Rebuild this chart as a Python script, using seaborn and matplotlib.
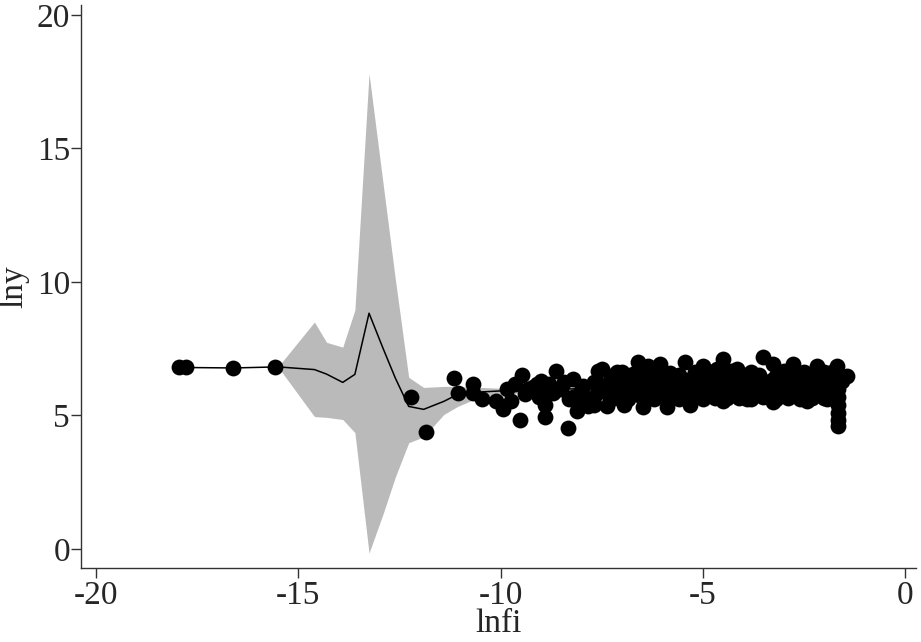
import numpy as np
import pandas as pd
import matplotlib
matplotlib.use("Agg")
import matplotlib.pyplot as plt
import seaborn as sns

# ---- smoothed fit with confidence band ----
fit_x = [-18.0, -16.6, -15.5, -14.6, -14.3, -13.9, -13.6, -13.25, -12.9, -12.6,
         -12.27, -11.9, -11.4, -11.06, -10.5, -10.0, -9.0, -7.0, -5.0, -3.0, -1.6]
fit_y = [6.80, 6.78, 6.82, 6.72, 6.55, 6.24, 6.54, 8.83, 7.50, 6.40,
         5.34, 5.23, 5.53, 5.79, 5.88, 5.92, 5.98, 6.02, 6.05, 6.08, 6.05]
ci_lo = [6.80, 6.78, 6.82, 4.96, 4.93, 4.85, 4.36, -0.15, 1.33, 2.70,
         3.98, 4.20, 5.04, 5.34, 5.70, 5.80, 5.88, 5.95, 5.98, 6.00, 5.90]
ci_hi = [6.80, 6.78, 6.82, 8.50, 7.74, 7.56, 8.95, 17.80, 13.65, 10.10,
         6.43, 6.05, 6.09, 6.09, 6.05, 6.02, 6.06, 6.09, 6.12, 6.15, 6.20]

# ---- observations ----
obs_x = [
    -17.95, -17.78, -16.62, -15.58,
    -12.22, -11.83, -11.16, -11.04, -10.69, -10.69, -10.47, -10.12, -9.93, -9.75,
    -9.83, -9.63, -9.46, -9.53, -9.33, -9.09, -9.06, -8.89, -8.91, -8.81, -8.62,
    -8.59, -8.32, -8.44, -8.22, -8.20, -8.10, -7.85, -7.95, -7.70, -7.58, -7.70,
    -9.20, -8.70, -8.00, -7.60,
    -9.00, -8.50, -8.30, -7.90, -8.80, -9.40,
    -7.48, -7.11, -6.59, -6.35, -6.05, -6.72, -5.43, -4.99, -4.49, -4.64, -4.15,
    -3.51, -3.26, -2.77, -2.17, -1.68, -1.43,
    -7.70, -7.36, -6.96, -6.47, -5.88, -5.31, -4.49, -3.90, -3.26, -2.42, -1.93,
    -1.65, -1.65, -1.65, -1.65, -1.65, -1.65,
    -7.00, -6.20, -5.80, -5.20, -4.80, -4.30, -3.80, -3.00, -2.50, -2.00, -1.80,
    -7.30, -6.95, -6.60, -6.30, -6.00, -5.70, -5.40, -5.10, -4.80, -4.50, -4.20,
    -3.90, -3.60, -3.30, -3.00, -2.70, -2.40, -2.10, -1.85, -1.60,
    -7.45, -7.10, -6.80, -6.45, -6.15, -5.85, -5.55, -5.25, -4.95, -4.65, -4.35,
    -4.05, -3.75, -3.45, -3.15, -2.85, -2.55, -2.25, -1.95, -1.70,
    -7.20, -6.85, -6.50, -6.20, -5.90, -5.60, -5.30, -5.00, -4.70, -4.40, -4.10,
    -3.80, -3.50, -3.20, -2.90, -2.60, -2.30, -2.00,
    -7.55, -7.25, -6.90, -6.55, -6.25, -5.95, -5.65, -5.35, -5.05, -4.75, -4.45,
    -4.15, -3.85, -3.55, -3.25, -2.95, -2.65, -2.35, -2.05, -1.75,
    -7.35, -7.00, -6.65, -6.35, -6.05, -5.75, -5.45, -5.15, -4.85, -4.55, -4.25,
    -3.95, -3.65, -3.35, -3.05, -2.75, -2.45, -2.15, -1.90,
    -7.20, -6.85, -6.45, -6.00, -5.60, -5.00, -4.40, -4.00, -3.60, -3.20, -2.80,
    -2.30, -1.95, -1.55,
]
obs_y = [
    6.80, 6.80, 6.76, 6.80,
    5.71, 4.40, 6.39, 5.86, 6.17, 5.86, 5.60, 5.53, 5.23, 5.53,
    5.98, 6.17, 6.50, 4.85, 5.98, 6.17, 5.71, 5.41, 4.96, 6.17, 6.65,
    5.98, 4.55, 6.24, 6.35, 5.71, 5.15, 5.34, 6.09, 6.24, 6.65, 5.68,
    6.05, 5.85, 5.90, 5.95,
    6.30, 6.00, 5.60, 5.50, 5.90, 5.80,
    6.73, 6.62, 7.00, 6.84, 6.92, 6.54, 6.99, 6.84, 7.10, 6.73, 6.73,
    7.18, 6.92, 6.92, 6.84, 6.84, 6.47,
    5.41, 5.34, 5.41, 5.30, 5.30, 5.41, 5.53, 5.60, 5.49, 5.53, 5.60,
    5.98, 5.70, 5.40, 5.10, 4.85, 4.60,
    6.62, 6.65, 6.60, 6.64, 6.62, 6.66, 6.63, 6.65, 6.62, 6.64, 6.63,
    6.30, 6.35, 6.28, 6.33, 6.36, 6.30, 6.34, 6.29, 6.35, 6.31, 6.33,
    6.36, 6.30, 6.34, 6.32, 6.35, 6.30, 6.33, 6.36, 6.30,
    5.95, 5.98, 5.92, 5.96, 5.99, 5.94, 5.97, 5.93, 5.98, 5.95, 5.96,
    5.92, 5.97, 5.94, 5.99, 5.95, 5.93, 5.97, 5.96, 5.94,
    5.65, 5.62, 5.68, 5.60, 5.66, 5.63, 5.69, 5.61, 5.66, 5.64, 5.67,
    5.62, 5.68, 5.63, 5.66, 5.61, 5.67, 5.64,
    6.15, 6.12, 6.18, 6.14, 6.16, 6.13, 6.17, 6.15, 6.12, 6.16, 6.14,
    6.18, 6.13, 6.15, 6.17, 6.12, 6.16, 6.14, 6.15, 6.13,
    5.80, 5.78, 5.82, 5.79, 5.81, 5.77, 5.83, 5.80, 5.78, 5.81, 5.79,
    5.82, 5.80, 5.78, 5.81, 5.79, 5.82, 5.80, 5.78,
    6.50, 6.48, 6.52, 6.49, 6.51, 6.50, 6.48, 6.52, 6.50, 6.49, 6.51,
    6.50, 6.48, 6.30,
]

x_ticks = [-20, -15, -10, -5, 0]
y_ticks = [0, 5, 10, 15, 20]

sns.set_style("ticks")
plt.rcParams['font.family'] = ['Liberation Serif', 'DejaVu Serif']

fit = pd.DataFrame({"lnfi": fit_x, "lny": fit_y, "lo": ci_lo, "hi": ci_hi})
obs = pd.DataFrame({"lnfi": obs_x, "lny": obs_y})

fig = plt.figure(figsize=(9.21, 6.42), dpi=100)
ax = fig.add_axes([81/921, 1 - 568/642, (916 - 81)/921, (568 - 5)/642])

ax.fill_between(fit["lnfi"], fit["lo"], fit["hi"], color="#bababa", linewidth=0, zorder=1)
sns.lineplot(data=fit, x="lnfi", y="lny", color="black", linewidth=1.1, ax=ax,
             sort=False, zorder=2, estimator=None)
sns.scatterplot(data=obs, x="lnfi", y="lny", color="black", s=130, marker="o",
                linewidth=0, ax=ax, zorder=3)

ax.set_xlim(-20.37, 0.27)
ax.set_ylim(-0.71, 20.37)
ax.set_xticks(x_ticks)
ax.set_yticks(y_ticks)
ax.set_xticklabels([str(t) for t in x_ticks])
ax.set_yticklabels([str(t) for t in y_ticks])
ax.tick_params(axis="both", labelsize=24, length=7, width=1.0, color="#333333")
ax.tick_params(axis="x", pad=2)
ax.tick_params(axis="y", pad=1)
for s in ["top", "right"]:
    ax.spines[s].set_visible(False)
for s in ["left", "bottom"]:
    ax.spines[s].set_color("#333333")
    ax.spines[s].set_linewidth(1.0)

ax.set_xlabel("lnfi", fontsize=24, labelpad=-2)
ax.set_ylabel("lny", fontsize=24)
ax.yaxis.set_label_coords(-0.062, 0.5)

fig.savefig("out.png", dpi=100, facecolor="white")
